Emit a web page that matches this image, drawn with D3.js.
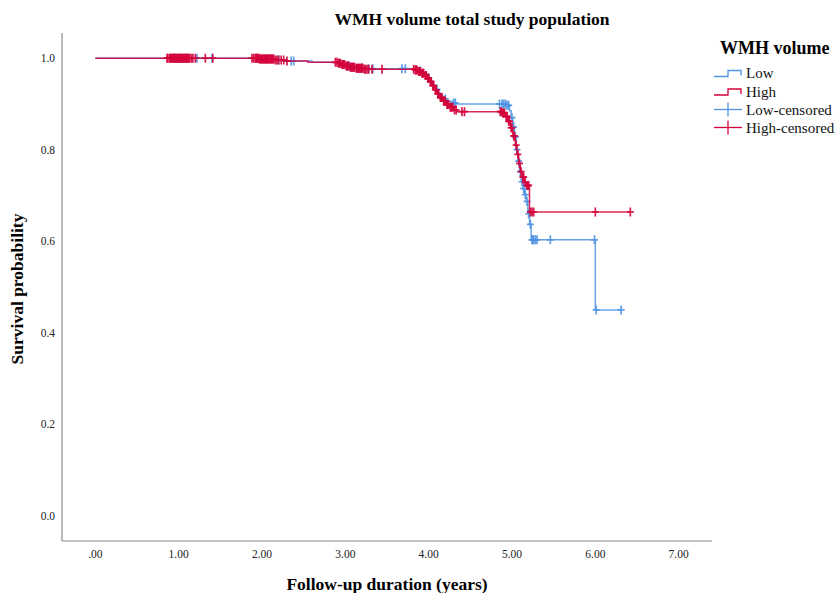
<!DOCTYPE html>
<html>
<head>
<meta charset="utf-8">
<script src="https://cdn.jsdelivr.net/npm/d3@7"></script>
<style>
  body { margin: 0; background: #fff; }
  svg { font-family: "Liberation Serif", "DejaVu Serif", serif; }
</style>
</head>
<body>
<div id="chart"></div>
<script>
// Kaplan-Meier step data
const groups = ["Low", "High"];

const lowEventTime = [1.98, 2.12, 2.25, 2.60, 2.92, 2.97, 3.02, 3.08, 3.15, 3.25,
  3.84, 3.88, 3.92, 3.96, 3.99, 4.02, 4.05, 4.08, 4.11, 4.14, 4.18, 4.22, 4.28, 4.34,
  4.93, 4.97, 4.99, 5.01, 5.03, 5.05, 5.07, 5.09, 5.11, 5.13, 5.15, 5.17, 5.19, 5.21, 5.23, 6.00];
const lowEventSurv = [0.998, 0.996, 0.994, 0.991, 0.989, 0.986, 0.983, 0.981, 0.979, 0.977,
  0.974, 0.972, 0.968, 0.963, 0.957, 0.950, 0.941, 0.932, 0.924, 0.917, 0.911, 0.906, 0.902, 0.900,
  0.897, 0.885, 0.870, 0.850, 0.828, 0.800, 0.775, 0.752, 0.730, 0.715, 0.702, 0.687, 0.660, 0.637, 0.603, 0.450];
const lowCensor = [0.95, 1.02, 1.10, 1.22, 1.40, 2.05, 2.20, 2.35, 2.38, 3.05, 3.20, 3.28, 3.33,
  3.68, 3.72, 3.90, 4.00, 4.10, 4.20, 4.30, 4.32, 4.85, 4.88, 4.90, 4.92, 4.94, 4.96,
  5.00, 5.02, 5.04, 5.06, 5.08, 5.10, 5.12, 5.14, 5.16, 5.18, 5.20, 5.22, 5.24, 5.25, 5.26,
  5.28, 5.30, 5.46, 5.99, 6.01, 6.31];

const highEventTime = [1.97, 2.15, 2.28, 2.55, 2.91, 2.95, 3.00, 3.05, 3.12, 3.22,
  3.83, 3.87, 3.91, 3.95, 3.98, 4.01, 4.04, 4.07, 4.10, 4.13, 4.17, 4.21, 4.25, 4.30, 4.34,
  4.88, 4.92, 4.95, 4.98, 5.01, 5.04, 5.06, 5.08, 5.10, 5.12, 5.15, 5.17, 5.21];
const highEventSurv = [0.998, 0.996, 0.994, 0.991, 0.989, 0.986, 0.983, 0.980, 0.978, 0.976,
  0.974, 0.971, 0.967, 0.962, 0.956, 0.949, 0.940, 0.931, 0.922, 0.914, 0.906, 0.899, 0.893, 0.887, 0.883,
  0.880, 0.873, 0.862, 0.848, 0.830, 0.810, 0.790, 0.770, 0.752, 0.740, 0.728, 0.722, 0.664];
const highCensor = [0.86, 0.87, 0.89, 0.90, 0.91, 0.92, 0.93, 0.94, 0.95, 0.96, 0.97, 0.98, 0.99,
  1.00, 1.01, 1.02, 1.03, 1.04, 1.05, 1.06, 1.07, 1.08, 1.09, 1.10, 1.11, 1.12, 1.13, 1.15, 1.17, 1.20,
  1.32, 1.41,
  1.88, 1.90, 1.92, 1.93, 1.94, 1.95, 1.96, 1.97, 1.98, 1.99, 2.00, 2.01, 2.02, 2.03, 2.04, 2.05,
  2.06, 2.07, 2.08, 2.09, 2.10, 2.11, 2.12, 2.13, 2.14, 2.16, 2.18, 2.20, 2.23, 2.26, 2.30,
  2.88, 2.90, 2.92, 2.93, 2.94, 2.96, 2.97, 2.98, 2.99, 3.01, 3.02, 3.03, 3.04, 3.06, 3.07, 3.08,
  3.09, 3.10, 3.11, 3.13, 3.14, 3.15, 3.16, 3.17, 3.18, 3.19, 3.20, 3.21, 3.23, 3.24, 3.26, 3.28,
  3.32, 3.44,
  3.82, 3.84, 3.85, 3.86, 3.88, 3.89, 3.90, 3.92, 3.93, 3.94, 3.96, 3.97, 3.99, 4.00, 4.02, 4.03,
  4.05, 4.06, 4.08, 4.09, 4.11, 4.12, 4.14, 4.15, 4.16, 4.18, 4.19, 4.20, 4.22, 4.23, 4.24, 4.26,
  4.27, 4.29, 4.31, 4.33, 4.40, 4.43,
  4.86, 4.87, 4.89, 4.90, 4.91, 4.93, 4.94, 4.96, 4.97, 4.99, 5.00, 5.02, 5.03, 5.05, 5.07, 5.09,
  5.11, 5.13, 5.14, 5.16, 5.18, 5.19, 5.20,
  5.22, 5.24, 5.26, 6.00, 6.42];

const xTicks = [0, 1, 2, 3, 4, 5, 6, 7];
const yTicks = [0, 0.2, 0.4, 0.6, 0.8, 1.0];
const legendLabels = ["Low", "High", "Low-censored", "High-censored"];

const width = 838, height = 593;
const blue = "#4f93e3", red = "#d4023b";

const svg = d3.select("#chart").append("svg")
  .attr("width", width)
  .attr("height", height);

const x = d3.scaleLinear().domain([-0.4, 7.4]).range([62, 712]);
const y = d3.scaleLinear().domain([-0.055, 1.055]).range([541, 33]);

// axes (no tick marks, just labels)
svg.append("line").attr("x1", 62).attr("x2", 62).attr("y1", 33).attr("y2", 541)
  .attr("stroke", "#8a8a8a").attr("stroke-width", 1.2);
svg.append("line").attr("x1", 62).attr("x2", 712).attr("y1", 541).attr("y2", 541)
  .attr("stroke", "#8a8a8a").attr("stroke-width", 1.2);

svg.selectAll(".xt").data(xTicks).enter().append("text")
  .attr("x", d => x(d)).attr("y", 558)
  .attr("text-anchor", "middle").attr("font-size", 11.5).attr("fill", "#222")
  .text(d => d === 0 ? ".00" : d3.format(".2f")(d));

svg.selectAll(".yt").data(yTicks).enter().append("text")
  .attr("x", 55).attr("y", d => y(d) + 4)
  .attr("text-anchor", "end").attr("font-size", 11.5).attr("fill", "#222")
  .text(d => d3.format(".1f")(d));

// titles
svg.append("text").attr("x", 472).attr("y", 25).attr("text-anchor", "middle")
  .attr("font-size", 17.5).attr("font-weight", "bold").text("WMH volume total study population");
svg.append("text").attr("x", 387).attr("y", 590).attr("text-anchor", "middle")
  .attr("font-size", 17.5).attr("font-weight", "bold").text("Follow-up duration (years)");
svg.append("text").attr("transform", "translate(23,289) rotate(-90)").attr("text-anchor", "middle")
  .attr("font-size", 17.5).attr("font-weight", "bold").text("Survival probability");

function survAt(times, surv, t) {
  let s = 1;
  for (let i = 0; i < times.length; i++) if (times[i] <= t) s = surv[i];
  return s;
}

function drawGroup(times, surv, censor, color) {
  const end = d3.max(censor);
  const pts = [[0, 1]].concat(times.map((t, i) => [t, surv[i]]));
  pts.push([end, surv[surv.length - 1]]);
  const line = d3.line().x(d => x(d[0])).y(d => y(d[1])).curve(d3.curveStepAfter);
  const g = svg.append("g");
  g.append("path").attr("d", line(pts)).attr("fill", "none")
    .attr("stroke", color).attr("stroke-width", 1.5).attr("stroke-opacity", 0.85);
  // censor marks drawn as small "+" crosses
  g.selectAll("path.cm").data(censor).enter().append("path")
    .attr("class", "cm")
    .attr("d", d => {
      const cx = x(d), cy = y(survAt(times, surv, d));
      return `M${cx},${cy - 4.5}V${cy + 4.5}M${cx - 3.5},${cy}H${cx + 3.5}`;
    })
    .attr("fill", "none")
    .attr("stroke", color).attr("stroke-width", 1.7).attr("stroke-opacity", 0.9);
}

drawGroup(lowEventTime, lowEventSurv, lowCensor, blue);
drawGroup(highEventTime, highEventSurv, highCensor, red);

// legend
const lg = svg.append("g");
lg.append("text").attr("x", 720).attr("y", 54).attr("font-size", 18).attr("font-weight", "bold")
  .text("WMH volume");
const legY = [77, 95.5, 113.5, 131.5];
const legColor = [blue, red, blue, red];
legendLabels.forEach((lab, i) => {
  const yy = legY[i];
  if (i < 2) {
    lg.append("path")
      .attr("d", `M714,${yy - 0.5}H728V${yy - 6.5}H741V${yy - 1.5}`)
      .attr("fill", "none").attr("stroke", legColor[i]).attr("stroke-width", 1.3);
  } else {
    lg.append("line").attr("x1", 714).attr("x2", 742).attr("y1", yy - 4).attr("y2", yy - 4)
      .attr("stroke", legColor[i]).attr("stroke-width", 1.3);
    lg.append("line").attr("x1", 728).attr("x2", 728).attr("y1", yy - 11).attr("y2", yy + 3)
      .attr("stroke", legColor[i]).attr("stroke-width", 1.3);
  }
  lg.append("text").attr("x", 746).attr("y", yy + 1).attr("font-size", 15).attr("fill", "#111")
    .text(lab);
});
</script>
</body>
</html>
